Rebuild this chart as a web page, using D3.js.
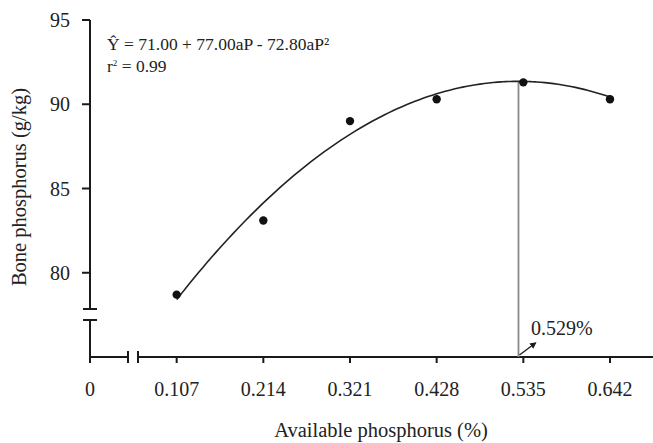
<!DOCTYPE html>
<html>
<head>
<meta charset="utf-8">
<script src="https://cdn.jsdelivr.net/npm/d3@7"></script>
<style>
  body { margin: 0; background: #fff; }
  text { font-family: "Liberation Serif", "Times New Roman", serif; fill: #222; }
</style>
</head>
<body>
<div id="chart"></div>
<script>
// Data
const phosphorus = [0.107, 0.214, 0.321, 0.428, 0.535, 0.642];
const boneP = [78.7, 83.1, 89.0, 90.3, 91.3, 90.3];
const xTicks = [0, 0.107, 0.214, 0.321, 0.428, 0.535, 0.642];
const yTicks = [80, 85, 90, 95];
// Regression: Y = 71.00 + 77.00aP - 72.80aP^2
const coef = [71.00, 77.00, -72.80];
const optimum = 0.529;

const W = 653, H = 443;
const svg = d3.select("#chart").append("svg")
    .attr("width", W)
    .attr("height", H);

const x = d3.scaleLinear().domain([0, 0.642]).range([90, 610]);
const y = d3.scaleLinear().domain([75, 95]).range([357, 20]);

const ink = "#1a1a1a";
const x0 = x(0), yBase = y(75);

// Y axis (with break)
svg.append("line").attr("x1", x0).attr("x2", x0).attr("y1", y(95)).attr("y2", 309)
    .attr("stroke", ink).attr("stroke-width", 2);
svg.append("line").attr("x1", x0).attr("x2", x0).attr("y1", 320).attr("y2", yBase)
    .attr("stroke", ink).attr("stroke-width", 2);
[309, 320].forEach(b => {
    svg.append("line").attr("x1", x0 - 7).attr("x2", x0 + 7).attr("y1", b).attr("y2", b)
        .attr("stroke", ink).attr("stroke-width", 2);
});
yTicks.forEach(t => {
    svg.append("line").attr("x1", x0 - 8).attr("x2", x0).attr("y1", y(t)).attr("y2", y(t))
        .attr("stroke", ink).attr("stroke-width", 2);
    svg.append("text").attr("x", 70).attr("y", y(t) + 7)
        .attr("text-anchor", "end").style("font-size", "20px").text(t);
});

// X axis (with break)
svg.append("line").attr("x1", x0).attr("x2", 128).attr("y1", yBase).attr("y2", yBase)
    .attr("stroke", ink).attr("stroke-width", 2);
svg.append("line").attr("x1", 138).attr("x2", W).attr("y1", yBase).attr("y2", yBase)
    .attr("stroke", ink).attr("stroke-width", 2);
[128, 138].forEach(b => {
    svg.append("line").attr("x1", b).attr("x2", b).attr("y1", yBase - 6).attr("y2", yBase + 6)
        .attr("stroke", ink).attr("stroke-width", 2);
});
xTicks.forEach(t => {
    svg.append("line").attr("x1", x(t)).attr("x2", x(t)).attr("y1", yBase).attr("y2", yBase + 6)
        .attr("stroke", ink).attr("stroke-width", 2);
    svg.append("text").attr("x", x(t)).attr("y", 396)
        .attr("text-anchor", "middle").style("font-size", "20px").text(t);
});

// Axis titles
svg.append("text").attr("x", 381).attr("y", 437)
    .attr("text-anchor", "middle").style("font-size", "20.5px").text("Available phosphorus (%)");
svg.append("text").attr("transform", "translate(26,187) rotate(-90)")
    .attr("text-anchor", "middle").style("font-size", "20.5px").text("Bone phosphorus (g/kg)");

// Optimum line
const fit = p => coef[0] + coef[1] * p + coef[2] * p * p;
svg.append("line").attr("x1", x(optimum)).attr("x2", x(optimum))
    .attr("y1", y(fit(optimum))).attr("y2", yBase)
    .attr("stroke", "#8a8a8a").attr("stroke-width", 1.8);

// Fitted curve
const curvePts = d3.range(0, 101).map(i => {
    const p = 0.107 + (0.642 - 0.107) * i / 100;
    return [p, fit(p)];
});
svg.append("path").datum(curvePts)
    .attr("d", d3.line().x(d => x(d[0])).y(d => y(d[1])).curve(d3.curveBasis))
    .attr("fill", "none").attr("stroke", "#222").attr("stroke-width", 1.6);

// Points
svg.selectAll(".pt").data(phosphorus).enter().append("circle")
    .attr("class", "pt")
    .attr("cx", d => x(d)).attr("cy", (d, i) => y(boneP[i]))
    .attr("r", 4.2).attr("fill", "#111");

// Arrow and optimum label
svg.append("defs").append("marker").attr("id", "arr")
    .attr("viewBox", "0 0 10 10").attr("refX", 8).attr("refY", 5)
    .attr("markerWidth", 5).attr("markerHeight", 5).attr("orient", "auto")
    .append("path").attr("d", "M0,0 L10,5 L0,10 z").attr("fill", ink);
svg.append("line").attr("x1", x(optimum) + 1).attr("y1", yBase - 2)
    .attr("x2", x(optimum) + 17).attr("y2", yBase - 14)
    .attr("stroke", ink).attr("stroke-width", 1.3).attr("marker-end", "url(#arr)");
svg.append("text").attr("x", 531).attr("y", 335)
    .style("font-size", "20px").text(optimum.toFixed(3) + "%");

// Equation
svg.append("text").attr("x", 107).attr("y", 50).style("font-size", "17.5px")
    .text("Ŷ = 71.00 + 77.00aP - 72.80aP²");
const r2 = svg.append("text").attr("x", 107).attr("y", 72).style("font-size", "17.5px");
r2.append("tspan").text("r");
r2.append("tspan").attr("dy", -6).style("font-size", "9px").text("2");
r2.append("tspan").attr("dy", 6).text(" = 0.99");
</script>
</body>
</html>
